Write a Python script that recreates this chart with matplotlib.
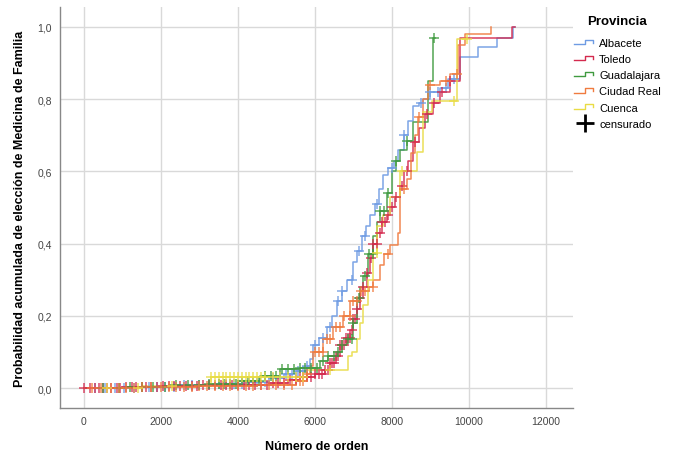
import numpy as np
import matplotlib
matplotlib.use("Agg")
import matplotlib.pyplot as plt
from matplotlib.lines import Line2D
from matplotlib.legend_handler import HandlerBase
from matplotlib.ticker import FuncFormatter

plt.rcParams["font.family"] = ["Liberation Sans", "DejaVu Sans"]

# ------------------------------------------------------------
# Data (step points and censored marks)
# ------------------------------------------------------------
provinces = ["Albacete", "Toledo", "Guadalajara", "Ciudad Real", "Cuenca"]
colors = ["#6E9BE3", "#D42A4E", "#3F9A3F", "#F07B3F", "#E9DC45"]

alb_x = [0, 1500, 2500, 3500, 4200, 4800, 5200, 5500, 5800, 5870, 5950, 6100, 6300, 6450,
         6570, 6700, 6830, 6990, 7100, 7220, 7330, 7430, 7550, 7660, 7770, 7900, 8050,
         8160, 8300, 8420, 8550, 8700, 8810, 9000, 9250, 9450, 9770, 10230, 10730, 11140, 11190]
alb_y = [0, 0.004, 0.008, 0.012, 0.018, 0.028, 0.038, 0.048, 0.06, 0.08, 0.12, 0.14, 0.17, 0.20,
         0.24, 0.27, 0.30, 0.35, 0.38, 0.42, 0.45, 0.48, 0.51, 0.55, 0.59, 0.61, 0.63,
         0.66, 0.70, 0.74, 0.78, 0.79, 0.80, 0.82, 0.83, 0.856, 0.917, 0.945, 0.97, 1.0, 1.0]
alb_cens = [300, 550, 800, 1050, 1300, 1500, 1700, 1900, 2100, 2350, 2600, 2800, 3000, 3250,
            3500, 3700, 3900, 4100, 4300, 4500, 4700, 4900, 5100, 5250, 5400, 5550, 5700,
            5800, 6000, 6200, 6400, 6600, 6700, 6950, 7150, 7300, 7600, 8000, 8300,
            8750, 9000, 9200, 9400, 9600]

tol_x = [0, 1000, 2000, 3000, 4000, 4800, 5300, 5600, 6000, 6250, 6400, 6550, 6650, 6800,
         6910, 7000, 7100, 7170, 7250, 7350, 7430, 7520, 7610, 7750, 7870, 7950, 8080, 8210,
         8320, 8420, 8550, 8700, 8850, 9060, 9250, 9500, 9770, 11120, 11190]
tol_y = [0, 0.003, 0.006, 0.008, 0.01, 0.015, 0.022, 0.03, 0.04, 0.05, 0.07, 0.09, 0.12, 0.14,
         0.16, 0.19, 0.22, 0.25, 0.28, 0.32, 0.36, 0.40, 0.43, 0.46, 0.48, 0.50, 0.53, 0.56,
         0.60, 0.63, 0.68, 0.72, 0.76, 0.79, 0.82, 0.85, 0.97, 1.0, 1.0]
tol_cens = [0, 150, 300, 400, 500, 600, 700, 850, 950, 1100, 1250, 1350, 1500, 1600, 1750,
            1900, 2050, 2200, 2350, 2500, 2650, 2800, 2950, 3100, 3250, 3400, 3550, 3700,
            3850, 4000, 4150, 4300, 4450, 4600, 4750, 4900, 5050, 5200, 5350, 5500, 5600,
            5700, 5800, 5900, 6000, 6100, 6180, 6250, 6330, 6400, 6450, 6500, 6550, 6600,
            6650, 6700, 6750, 6800, 6850, 6900, 6950, 7000, 7050, 7100, 7180, 7250, 7350,
            7450, 7520, 7600, 7680, 7750, 7830, 7900, 8000, 8100, 8250, 8400, 8600, 8900,
            9100, 9300, 9500]

gua_x = [0, 1200, 2200, 3200, 4000, 4570, 5090, 5600, 6130, 6350, 6570, 6700, 6830, 6990,
         7090, 7170, 7250, 7380, 7510, 7600, 7690, 7870, 8000, 8100, 8210, 8400, 8550, 8940,
         9060, 9120]
gua_y = [0, 0.004, 0.008, 0.012, 0.02, 0.033, 0.053, 0.055, 0.075, 0.09, 0.10, 0.12, 0.135,
         0.18, 0.25, 0.28, 0.31, 0.37, 0.42, 0.46, 0.49, 0.54, 0.60, 0.63, 0.66, 0.685, 0.737,
         0.85, 0.97, 0.97]
gua_cens = [500, 900, 1200, 1500, 1800, 2100, 2400, 2700, 3000, 3250, 3500, 3650, 3800,
            3950, 4100, 4250, 4400, 4550, 4700, 4850, 5000, 5150, 5300, 5450, 5600, 5750,
            5900, 6050, 6200, 6350, 6500, 6600, 6700, 6850, 6950, 7000, 7150, 7300, 7400,
            7500, 7700, 7800, 7900, 8100, 8400, 9100]

ciu_x = [0, 1500, 3000, 4500, 5500, 5800, 5870, 5950, 6210, 6470, 6730, 6910, 7170, 7400,
         7510, 7690, 7800, 7950, 8160, 8210, 8390, 8500, 8600, 8680, 8800, 8940, 9250, 9510,
         9710, 9900, 10570, 10580]
ciu_y = [0, 0.003, 0.006, 0.01, 0.02, 0.04, 0.06, 0.10, 0.135, 0.17, 0.20, 0.24, 0.27, 0.28,
         0.30, 0.34, 0.37, 0.395, 0.43, 0.55, 0.58, 0.65, 0.70, 0.75, 0.80, 0.84, 0.85, 0.87,
         0.95, 0.98, 1.0, 1.0]
ciu_cens = [200, 450, 700, 900, 1100, 1300, 1500, 1750, 2000, 2200, 2400, 2600, 2800, 3000,
            3200, 3400, 3600, 3800, 4000, 4200, 4400, 4600, 4800, 5000, 5200, 5400, 5600,
            5700, 5800, 6000, 6100, 6200, 6300, 6400, 6550, 6650, 6750, 6900, 7000, 7100,
            7200, 7300, 7500, 7900, 8300, 8700, 9000, 9400, 9700]

cue_x = [0, 1500, 3300, 5800, 6860, 6950, 7090, 7170, 7260, 7380, 7510, 7610, 7770, 7950,
         8210, 8650, 8810, 9050, 9690, 9950]
cue_y = [0, 0.005, 0.03, 0.05, 0.09, 0.10, 0.135, 0.18, 0.23, 0.30, 0.375, 0.45, 0.48, 0.53,
         0.60, 0.655, 0.765, 0.795, 0.967, 0.967]
cue_cens = [600, 1400, 2300, 3300, 3400, 3500, 3600, 3700, 3800, 3900, 4000, 4100, 4200,
            4300, 4400, 4500, 4600, 4700, 4900, 5100, 5300, 5500, 5700, 6400, 7600, 8250,
            9600, 9950]

series = [
    (alb_x, alb_y, alb_cens),
    (tol_x, tol_y, tol_cens),
    (gua_x, gua_y, gua_cens),
    (ciu_x, ciu_y, ciu_cens),
    (cue_x, cue_y, cue_cens),
]

x_ticks = [0, 2000, 4000, 6000, 8000, 10000, 12000]
y_ticks = [0.0, 0.2, 0.4, 0.6, 0.8, 1.0]


class StepHandler(HandlerBase):
    """Little step icon like the SPSS legend."""
    def create_artists(self, legend, orig_handle, xdescent, ydescent,
                       width, height, fontsize, trans):
        w, h = width, height
        xs = np.array([0, 0.5, 0.5, 0.9, 0.9]) * w - xdescent
        ys = np.array([0.25, 0.25, 0.8, 0.8, 0.45]) * h - ydescent
        ln = Line2D(xs, ys, color=orig_handle.get_color(), lw=1.0)
        ln.set_transform(trans)
        return [ln]


# ------------------------------------------------------------
# Figure
# ------------------------------------------------------------
fig = plt.figure(figsize=(6.81, 4.56), dpi=100)
ax = fig.add_axes([60 / 681, 1 - 409 / 456, (573 - 60) / 681, (409 - 8) / 456])

handles = []
for (xs, ys, cens), col, name in zip(series, colors, provinces):
    xs = np.asarray(xs, float)
    ys = np.asarray(ys, float)
    ln, = ax.plot(xs, ys, drawstyle="steps-post", color=col, lw=1.1, alpha=0.9, zorder=2)
    cx = np.asarray(cens, float)
    idx = np.searchsorted(xs, cx, side="right") - 1
    ax.plot(cx, ys[idx], ls="none", marker="+", ms=7, mew=1.1, color=col, alpha=0.85, zorder=3)
    handles.append(ln)

ax.set_xlim(-620, 12700)
ax.set_ylim(-0.055, 1.055)
ax.set_xticks(x_ticks)
ax.set_yticks(y_ticks)
ax.yaxis.set_major_formatter(FuncFormatter(lambda v, p: f"{v:.1f}".replace(".", ",")))
ax.grid(True, color="#d9d9d9", lw=1.0)
ax.set_axisbelow(True)
ax.tick_params(length=0, labelsize=7.5, colors="#444444")
ax.tick_params(axis="x", pad=6)
ax.tick_params(axis="y", pad=6)
for s in ["top", "right"]:
    ax.spines[s].set_visible(False)
for s in ["left", "bottom"]:
    ax.spines[s].set_color("#888888")
    ax.spines[s].set_linewidth(1.0)

ax.set_xlabel("Número de orden", fontsize=9, fontweight="bold", labelpad=10)
ax.set_ylabel("Probabilidad acumulada de elección de Medicina de Familia",
              fontsize=9, fontweight="bold", labelpad=8)

cens_handle = Line2D([], [], ls="none", marker="+", ms=13, mew=2.0, color="black")
hmap = {h: StepHandler() for h in handles}
leg = fig.legend(handles + [cens_handle], provinces + ["censurado"],
                 loc="upper left", bbox_to_anchor=(574 / 681, 1 - 16 / 456),
                 frameon=False, handlelength=1.9, handletextpad=0.35, labelspacing=0.55,
                 fontsize=8, title="Provincia",
                 title_fontproperties={"weight": "bold", "size": 9.5},
                 borderpad=0, borderaxespad=0, handler_map=hmap)
leg._legend_box.sep = 8

fig.savefig("out.png", dpi=100)
